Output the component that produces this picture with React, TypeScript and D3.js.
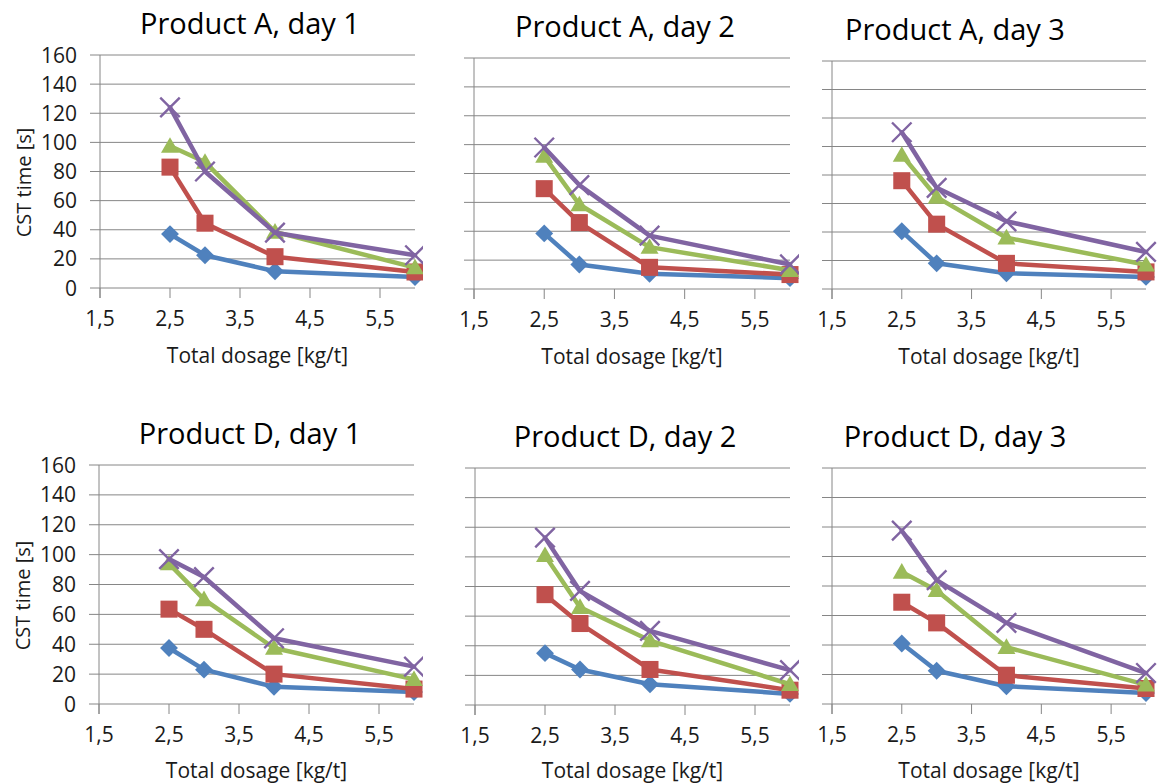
import React from "react";
import * as d3 from "d3";

// dosage levels (x) shared by all panels
const doses = [2.5, 3, 4, 6];
const xTickValues = [1.5, 2.5, 3.5, 4.5, 5.5];
const yTickValues = [0, 20, 40, 60, 80, 100, 120, 140, 160];

const panelTitles = [
  "Product A, day 1",
  "Product A, day 2",
  "Product A, day 3",
  "Product D, day 1",
  "Product D, day 2",
  "Product D, day 3",
];

// CST time [s], one row per panel, one value per dose
const blueValues = [
  [37, 22.5, 11.5, 7.5],
  [38.5, 17, 10.5, 7.5],
  [40.5, 18, 11, 8.5],
  [37.5, 23, 11.5, 8],
  [35, 24, 14, 7.5],
  [41, 22.5, 12, 7.5],
];
const redValues = [
  [83, 44.5, 21.5, 11],
  [69.5, 46, 15, 10],
  [76, 45.5, 18, 12],
  [63.5, 50, 20, 10],
  [74.5, 55, 24, 10],
  [69, 55, 19.5, 10.5],
];
const greenValues = [
  [97.5, 86.5, 38.5, 14],
  [92, 58.5, 29, 13],
  [94, 64.5, 36, 17],
  [94, 70, 37.5, 16.5],
  [101, 66, 43.5, 14],
  [89.5, 77, 38.5, 13],
];
const purpleValues = [
  [124, 80, 38, 22.5],
  [98, 72, 37, 17],
  [110, 71, 47.5, 26],
  [97, 85, 44, 25],
  [113, 77, 50, 23.5],
  [117.5, 84, 55, 21],
];

// where each panel sits on the page
const layout = [
  { left: 100, right: 415, top: 55, bottom: 288, titleX: 250, clipRight: 423, yLabels: true },
  { left: 474, right: 790, top: 58, bottom: 289, titleX: 625, clipRight: 799, yLabels: false },
  { left: 832, right: 1146, top: 61, bottom: 289, titleX: 955, clipRight: 1166, yLabels: false },
  { left: 99, right: 414, top: 465, bottom: 704, titleX: 250, clipRight: 423, yLabels: true },
  { left: 475, right: 790, top: 468, bottom: 705, titleX: 625, clipRight: 799, yLabels: false },
  { left: 832, right: 1146, top: 468, bottom: 704, titleX: 955, clipRight: 1166, yLabels: false },
];

const FONT = "'Open Sans', 'Noto Sans', sans-serif";
const GRID = "#868686";
const fmt = (v) => String(v).replace(".", ",");

const series = [
  { values: blueValues, color: "#4F81BD", shape: "diamond" },
  { values: redValues, color: "#C0504D", shape: "square" },
  { values: greenValues, color: "#9BBB59", shape: "triangle" },
  { values: purpleValues, color: "#8064A2", shape: "x" },
];

const symbolPath = {
  diamond: d3.symbol(d3.symbolSquare, 160)(),
  square: d3.symbol(d3.symbolSquare, 290)(),
  triangle: d3.symbol(d3.symbolTriangle, 140)(),
  x: d3.symbol(d3.symbolTimes, 250)(),
};

function Marker({ shape, color, x, y }) {
  if (shape === "x") {
    return (
      <path d={symbolPath.x} transform={`translate(${x},${y})`} fill="none" stroke={color} strokeWidth={2.4} />
    );
  }
  const rot = shape === "diamond" ? " rotate(45)" : "";
  const dy = shape === "triangle" ? 1.5 : 0;
  return <path d={symbolPath[shape]} transform={`translate(${x},${y + dy})${rot}`} fill={color} />;
}

function Panel({ index }) {
  const L = layout[index];
  const x = d3.scaleLinear().domain([1.5, 6]).range([L.left, L.right]);
  const y = d3.scaleLinear().domain([0, 160]).range([L.bottom, L.top]);
  const line = d3
    .line()
    .x((d, i) => x(doses[i]))
    .y((d) => y(d));
  const clipId = `clip-${index}`;

  return (
    <g>
      <clipPath id={clipId}>
        <rect x={L.left - 110} y={L.top - 60} width={L.clipRight - L.left + 110} height={L.bottom - L.top + 160} />
      </clipPath>
      <g clipPath={`url(#${clipId})`}>
        <text
          x={L.titleX}
          y={L.top - 21}
          textAnchor="middle"
          fontFamily={FONT}
          fontSize={29}
          fill="#000"
        >
          {panelTitles[index]}
        </text>

        {yTickValues.map((t) => (
          <line key={t} x1={L.left - 10} x2={x(6)} y1={y(t)} y2={y(t)} stroke={GRID} strokeWidth={1} />
        ))}
        <line x1={L.left} x2={L.left} y1={L.top} y2={L.bottom + 10} stroke={GRID} strokeWidth={1} />
        {xTickValues.map((t) => (
          <line key={t} x1={x(t)} x2={x(t)} y1={L.bottom} y2={L.bottom + 10} stroke={GRID} strokeWidth={1} />
        ))}

        {L.yLabels &&
          yTickValues.map((t) => (
            <text
              key={t}
              x={L.left - 23}
              y={y(t)}
              dy="0.36em"
              textAnchor="end"
              fontFamily={FONT}
              fontSize={21}
              fill="#1a1a1a"
            >
              {t}
            </text>
          ))}
        {L.yLabels && (
          <text
            transform={`translate(${L.left - 69},${(L.top + L.bottom) / 2 + 11}) rotate(-90)`}
            textAnchor="middle"
            fontFamily={FONT}
            fontSize={20}
            fill="#1a1a1a"
          >
            CST time [s]
          </text>
        )}

        {xTickValues.map((t) => (
          <text
            key={t}
            x={x(t)}
            y={L.bottom + 38}
            textAnchor="middle"
            fontFamily={FONT}
            fontSize={21}
            fill="#1a1a1a"
          >
            {fmt(t)}
          </text>
        ))}
        <text
          x={(L.left + L.right) / 2}
          y={Math.min(L.bottom + 75, 778)}
          textAnchor="middle"
          fontFamily={FONT}
          fontSize={21}
          fill="#1a1a1a"
        >
          Total dosage [kg/t]
        </text>

        {series.map((s, si) => (
          <g key={si}>
            <path
              d={line(s.values[index])}
              fill="none"
              stroke={s.color}
              strokeWidth={4.5}
              strokeLinejoin="round"
              strokeLinecap="round"
            />
            {s.values[index].map((v, i) => (
              <Marker key={i} shape={s.shape} color={s.color} x={x(doses[i])} y={y(v)} />
            ))}
          </g>
        ))}
      </g>
    </g>
  );
}

export default function App() {
  return (
    <svg
      width={1166}
      height={784}
      style={{ position: "absolute", left: 0, top: 0, background: "#fff" }}
    >
      <rect width={1166} height={784} fill="#fff" />
      {panelTitles.map((_, i) => (
        <Panel key={i} index={i} />
      ))}
    </svg>
  );
}
